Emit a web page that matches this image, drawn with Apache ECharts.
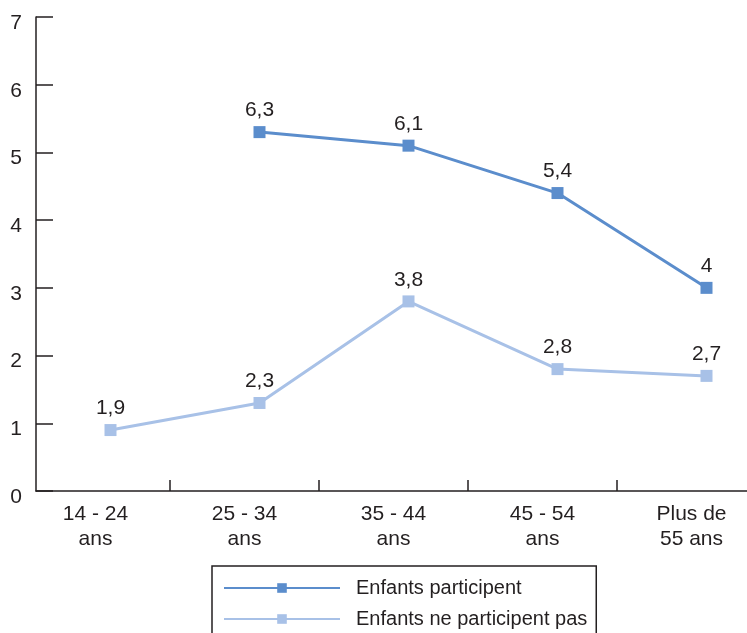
<!DOCTYPE html>
<html>
<head>
<meta charset="utf-8">
<script src="https://cdn.jsdelivr.net/npm/echarts@6/dist/echarts.min.js"></script>
<style>html,body{margin:0;padding:0;background:#fff;}#c{width:747px;height:633px;}</style>
</head>
<body>
<div id="c"></div>
<script>
var categories = ['14 - 24\nans', '25 - 34\nans', '35 - 44\nans', '45 - 54\nans', 'Plus de\n55 ans'];
var seriesNames = ['Enfants participent', 'Enfants ne participent pas'];
// plotted positions as drawn in the reference
var participentValues = [null, 5.3, 5.1, 4.4, 3.0];
var participentLabels = ['', '6,3', '6,1', '5,4', '4'];
var nePasValues = [0.9, 1.3, 2.8, 1.8, 1.7];
var nePasLabels = ['1,9', '2,3', '3,8', '2,8', '2,7'];
var yTicks = [0, 1, 2, 3, 4, 5, 6, 7];

var FONT = '"Liberation Sans", Arial, sans-serif';
var INK = '#231f20';
var chart = echarts.init(document.getElementById('c'), null, {renderer: 'canvas'});
chart.setOption({
  animation: false,
  backgroundColor: '#fff',
  grid: [
    {left: 36, top: 17, width: 745, height: 474, containLabel: false, outerBoundsMode: 'none'},
    {left: 21, top: 17, width: 745, height: 474, containLabel: false, outerBoundsMode: 'none'}
  ],
  xAxis: [
    {
      type: 'category', gridIndex: 0,
      data: categories,
      boundaryGap: true,
      axisLine: {show: true, lineStyle: {color: INK, width: 1.5}},
      axisTick: {show: false},
      axisLabel: {show: false},
      splitLine: {show: false}
    },
    {
      type: 'category', gridIndex: 1,
      data: categories,
      boundaryGap: true,
      axisLine: {show: false},
      axisTick: {show: true, inside: true, length: 11, lineStyle: {color: INK, width: 1.5},
        interval: function (i) { return i > 0; }},
      axisLabel: {color: INK, fontSize: 21, fontFamily: FONT, margin: 11, lineHeight: 25, interval: 0},
      splitLine: {show: false}
    }
  ],
  yAxis: [
    {
      type: 'value', gridIndex: 0,
      min: yTicks[0],
      max: yTicks[yTicks.length - 1],
      interval: 1,
      axisLine: {show: true, lineStyle: {color: INK, width: 1.5}},
      axisTick: {show: true, inside: true, length: 17, lineStyle: {color: INK, width: 1.5}},
      axisLabel: {color: INK, fontSize: 21, fontFamily: FONT, margin: 14, verticalAlign: 'top', lineHeight: 12},
      splitLine: {show: false}
    },
    {
      type: 'value', gridIndex: 1, min: 0, max: 7, show: false
    }
  ],
  legend: {
    orient: 'vertical',
    left: 212,
    top: 566,
    height: 80,
    padding: [12, 9, 20, 11],
    itemWidth: 116,
    itemHeight: 12,
    itemGap: 11,
    borderColor: INK,
    borderWidth: 1.5,
    textStyle: {color: INK, fontSize: 20, fontFamily: FONT, padding: [0, 0, 0, 11]},
    data: seriesNames
  },
  series: [
    {
      name: seriesNames[0],
      type: 'line',
      xAxisIndex: 0, yAxisIndex: 0,
      data: participentValues,
      symbol: 'rect',
      symbolSize: 12,
      connectNulls: false,
      itemStyle: {color: '#5b8dcc'},
      lineStyle: {color: '#5b8dcc', width: 3},
      label: {
        show: true, position: 'top', distance: 5,
        color: INK, fontSize: 21, fontFamily: FONT,
        formatter: function (p) { return participentLabels[p.dataIndex]; }
      }
    },
    {
      name: seriesNames[1],
      type: 'line',
      xAxisIndex: 0, yAxisIndex: 0,
      data: nePasValues,
      symbol: 'rect',
      symbolSize: 12,
      itemStyle: {color: '#a8c1e7'},
      lineStyle: {color: '#a8c1e7', width: 3},
      label: {
        show: true, position: 'top', distance: 5,
        color: INK, fontSize: 21, fontFamily: FONT,
        formatter: function (p) { return nePasLabels[p.dataIndex]; }
      }
    }
  ]
});
</script>
</body>
</html>
